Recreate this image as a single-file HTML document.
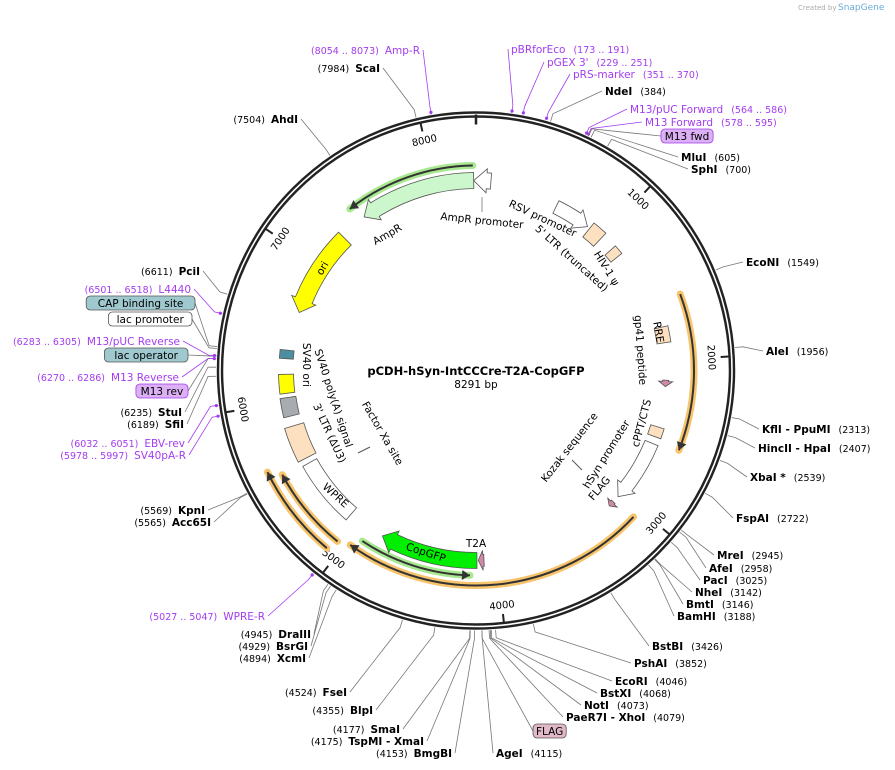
<!DOCTYPE html>
<html><head><meta charset="utf-8"><style>
body{margin:0;background:#fff;}
svg{display:block;font-family:"DejaVu Sans","Liberation Sans",sans-serif;}
</style></head><body>
<svg id="map" width="895" height="770" viewBox="0 0 895 770">
<text x="798" y="10" font-size="7" fill="#aaa">Created by</text>
<text x="838" y="10" font-size="9" fill="#6aa9d6">SnapGene</text>
<g id="lines"></g><g id="ring"></g><g id="feats"></g><g id="labels"></g>
<line x1="572" y1="460" x2="582" y2="470" stroke="#555" stroke-width="1"/>
<line x1="358" y1="453" x2="370" y2="447" stroke="#555" stroke-width="1"/>
<line x1="482" y1="197" x2="482" y2="212" stroke="#777" stroke-width="0.8"/>
<text x="476" y="375" text-anchor="middle" font-weight="bold" font-size="11.5">pCDH-hSyn-IntCCCre-T2A-CopGFP</text>
<text x="476" y="388" text-anchor="middle" font-size="10.5">8291 bp</text>
</svg>
<script>
const TOTAL = 8291;
const CX = 476, CY = 370.5, R = 256;
const tickValues = [1000,2000,3000,4000,5000,6000,7000,8000];
// features: name, start, end, radius, width, fill, direction (1 cw, -1 ccw, 0 box)
const featNames = ["AmpR","AmpR promoter","ori","RSV promoter","5' LTR","HIV-1 psi","RRE","gp41 peptide","cPPT/CTS","hSyn promoter","FLAG","T2A","CopGFP","WPRE","3' LTR","SV40 polyA","SV40 ori","lac operator"];
const featStart = [7460,8275,6637,600,890,1110,1770,2140,2470,2590,3080,4090,4139,5090,5590,5900,6060,6300];
const featEnd   = [8275,8395,7259,870,1000,1180,1880,2185,2540,3031,3120,4130,4825,5551,5830,6030,6192,6360];
const featR     = [190,190,186,182,180,180,190,190,190,190,190,190,190,190,190,190,190,190];
const featW     = [16,16,18,14,18,14,14,6,14,14,5,12,16,16,20,16,15,14];
const featFill  = ["#ccf7cc","#fff","#ffff00","#fff","#fde0c0","#fde0c0","#fde0c0","#d08aa8","#fde0c0","#fff","#d08aa8","#d08aa8","#00ee00","#fff","#fde0c0","#a8abb0","#ffff00","#4c8fa0"];
const featDir   = [-1,-1,-1,1,0,0,0,1,0,1,1,1,1,0,0,0,0,0];
// highlighted ORF arcs
const orfStart = [7416,1600,3061,4184,5067,5044];
const orfEnd   = [8270,2567,4970,4921,5620,5567];
const orfR     = [205,218,215,205,232,220];
const orfColor = ["#a8e890","#f7c46c","#f7c46c","#a8e890","#f7c46c","#f7c46c"];
const orfDir   = [-1,1,1,-1,1,1];
// sites
const siteNames = ["Amp-R","ScaI","AhdI","pBRforEco","pGEX 3'","pRS-marker","NdeI","M13/pUC Forward","M13 Forward","M13 fwd","MluI","SphI","EcoNI","AleI","KflI - PpuMI","HincII - HpaI","XbaI *","FspAI","MreI","AfeI","PacI","NheI","BmtI","BamHI","BstBI","PshAI","EcoRI","BstXI","NotI","PaeR7I - XhoI","FLAG","AgeI","BmgBI","TspMI - XmaI","SmaI","BlpI","FseI","XcmI","BsrGI","DraIII","WPRE-R","Acc65I","KpnI","SV40pA-R","EBV-rev","SfiI","StuI","M13 rev","M13 Reverse","lac operator","M13/pUC Reverse","lac promoter","CAP binding site","L4440","PciI"];
const siteNums = ["8054 .. 8073","7984","7504","173 .. 191","229 .. 251","351 .. 370","384","564 .. 586","578 .. 595","","605","700","1549","1956","2313","2407","2539","2722","2945","2958","3025","3142","3146","3188","3426","3852","4046","4068","4073","4079","","4115","4153","4175","4177","4355","4524","4894","4929","4945","5027 .. 5047","5565","5569","5978 .. 5997","6032 .. 6051","6189","6235","","6270 .. 6286","","6283 .. 6305","","","6501 .. 6518","6611"];
const siteBp = [8063,7984,7504,182,240,360,384,575,586,590,605,700,1549,1956,2313,2407,2539,2722,2945,2958,3025,3142,3146,3188,3426,3852,4046,4068,4073,4079,4115,4115,4153,4175,4177,4355,4524,4894,4929,4945,5037,5565,5569,5987,6041,6189,6235,6278,6278,6290,6294,6330,6340,6509,6611];
const siteType = ["pL","bL","bL","pR","pR","pR","bR","pR","pR","xR","bR","bR","bR","bR","bR","bR","bR","bR","bR","bR","bR","bR","bR","bR","bR","bR","bR","bR","bR","bR","fR","bR","bL","bL","bL","bL","bL","bL","bL","bL","pL","bL","bL","pL","pL","bL","bL","xL","pL","tL","pL","wL","tL","pL","bL"];
const siteLX = [420,380,298,511,547,573,605,630,645,661,681,691,746,766,762,758,750,736,717,709,703,695,686,677,652,634,615,600,584,566,533,496,452,424,400,373,347,306,308,311,265,211,205,186,185,184,182,188,179,188,180,192,195,191,200];
const siteLY = [54,72,123,53,66,78,95,113,126,140,161,173,266,355,433,452,481,522,559,572,584,596,608,620,650,667,685,697,709,721,735,757,757,745,733,714,696,662,650,638,620,526,514,459,447,428,416,395,381,359,345,323,307,293,275];

const svg = document.getElementById('map');
const NS = "http://www.w3.org/2000/svg";
function ang(bp){return bp/TOTAL*2*Math.PI;}
function pt(bp,r){const a=ang(bp);return [CX+r*Math.sin(a),CY-r*Math.cos(a)];}
function mk(tag,attrs,parent){const e=document.createElementNS(NS,tag);for(const k in attrs)e.setAttribute(k,attrs[k]);parent.appendChild(e);return e;}
function arc(r,b1,b2){const p1=pt(b1,r),p2=pt(b2,r);const large=(b2-b1)/TOTAL>0.5?1:0;return `M${p1[0]},${p1[1]} A${r},${r} 0 ${large} 1 ${p2[0]},${p2[1]}`;}
function pxToBp(px,r){return px/r/(2*Math.PI)*TOTAL;}

const ring=document.getElementById('ring');
let c1=mk('circle',{cx:CX,cy:CY,r:R,fill:'none',stroke:'#222','stroke-width':6.5},ring);


let c2=mk('circle',{cx:CX,cy:CY,r:R,fill:'none',stroke:'#fff','stroke-width':1.6},ring);


let z0=pt(0,R-10),z1=pt(0,R);
let zt=mk('line',{x1:z0[0],y1:z0[1],x2:z1[0],y2:z1[1],stroke:'#222','stroke-width':2.5},ring);


tickValues.forEach(v=>{
  const a=pt(v,R-3),b=pt(v,R-11);
  const l=mk('line',{x1:a[0],y1:a[1],x2:b[0],y2:b[1],stroke:'#222','stroke-width':2},ring);
  
  
  const deg=v/TOTAL*360;const q=pt(v,R-20);
  let rot=deg>90&&deg<270?deg+180:deg;
  const t=mk('text',{x:q[0],y:q[1]+3.5,'text-anchor':'middle','font-size':'10',transform:`rotate(${rot} ${q[0]} ${q[1]})`},ring);
  t.textContent=v;
  
  
});

const feats=document.getElementById('feats');
orfStart.forEach((s,i)=>{
  const e=orfEnd[i],r=orfR[i];
  const g=mk('g',{},feats);
  
  
  mk('path',{d:arc(r,s,e),fill:'none',stroke:orfColor[i],'stroke-width':7,'stroke-linecap':'round'},g);
  mk('path',{d:arc(r,s,e),fill:'none',stroke:'#333','stroke-width':2},g);
  const tip=orfDir[i]>0?e:s, back=orfDir[i]>0?e-pxToBp(8,r):s+pxToBp(8,r);
  const t=pt(tip,r),a=pt(back,r-5),b=pt(back,r+5);
  mk('path',{d:`M${t[0]},${t[1]} L${a[0]},${a[1]} L${b[0]},${b[1]}Z`,fill:'#333'},g);
});
featNames.forEach((n,i)=>{
  const s=featStart[i],e=featEnd[i],r=featR[i],w=featW[i],d=featDir[i];
  const ro=r+w/2,ri=r-w/2;let path;
  if(d===0){
    const a=pt(s,ro),b=pt(e,ro),c=pt(e,ri),f=pt(s,ri);
    path=`M${a[0]},${a[1]} A${ro},${ro} 0 0 1 ${b[0]},${b[1]} L${c[0]},${c[1]} A${ri},${ri} 0 0 0 ${f[0]},${f[1]}Z`;
  } else {
    let h=Math.min(pxToBp(13,r),(e-s)*0.8);
    const large=(e-s-h)/TOTAL>0.5?1:0;
    if(d>0){
      const hb=e-h;const a=pt(s,ro),b=pt(hb,ro),b2=pt(hb,ro+4),t=pt(e,r),c2=pt(hb,ri-4),c=pt(hb,ri),f=pt(s,ri);
      path=`M${a[0]},${a[1]} A${ro},${ro} 0 ${large} 1 ${b[0]},${b[1]} L${b2[0]},${b2[1]} L${t[0]},${t[1]} L${c2[0]},${c2[1]} L${c[0]},${c[1]} A${ri},${ri} 0 ${large} 0 ${f[0]},${f[1]}Z`;
    } else {
      const hb=s+h;const t=pt(s,r),a2=pt(hb,ro+4),a=pt(hb,ro),b=pt(e,ro),c=pt(e,ri),f=pt(hb,ri),f2=pt(hb,ri-4);
      path=`M${t[0]},${t[1]} L${a2[0]},${a2[1]} L${a[0]},${a[1]} A${ro},${ro} 0 ${large} 1 ${b[0]},${b[1]} L${c[0]},${c[1]} A${ri},${ri} 0 ${large} 0 ${f[0]},${f[1]} L${f2[0]},${f2[1]}Z`;
    }
  }
  const p=mk('path',{d:path,fill:featFill[i],stroke:'#555','stroke-width':0.8},feats);
  
  
});

const innerText=["AmpR promoter","AmpR","ori","RSV promoter","5' LTR (truncated)","HIV-1 ψ","RRE","gp41 peptide","cPPT/CTS","hSyn promoter","FLAG","Kozak sequence","Factor Xa site","SV40 ori","SV40 poly(A) signal","3' LTR (ΔU3)","WPRE","CopGFP","T2A"];
const innerX=[482,387,322,543,572,607,659,641,641,606,599,569,383,307,334,330,336,426,476];
const innerY=[224,238,272,222,262,272,336,354,427,458,492,451,437,369,402,437,499,556,547];
const innerRot=[6,-30,-60,25,42,58,80,86,-75,-58,-50,-52,60,90,72,65,42,18,0];
const L=document.getElementById('labels');
innerText.forEach((t,i)=>{
  const e=mk('text',{x:innerX[i],y:innerY[i],'text-anchor':'middle','font-size':'10.5',transform:`rotate(${innerRot[i]} ${innerX[i]} ${innerY[i]-4})`},L);
  e.textContent=t;
  
  
});

const lines=document.getElementById('lines');
siteNames.forEach((n,i)=>{
  const bp=siteBp[i],type=siteType[i][0],side=siteType[i][1],x=siteLX[i],y=siteLY[i];
  const purple=type==='p';
  const rp=pt(bp,R+4),rq=pt(bp,R+12);
  let lx=x,ly=y-4;
  const boxed=(type==='x'||type==='t'||type==='w'||type==='f');
  const g=mk('g',{},L);
  
  
  if(boxed){
    const fill=type==='x'?'#dbb0f5':type==='t'?'#9fc8cf':type==='f'?'#e0b8c8':'#fff';
    const tw=n.length*6.3+8;
    const bx=side==='R'?x:x-tw;
    mk('rect',{x:bx,y:y-11,width:tw,height:14,rx:4,fill:fill,stroke:type==='x'?'#a33cf0':'#555','stroke-width':0.8},g);
    const t=mk('text',{x:bx+tw/2,y:y,'text-anchor':'middle','font-size':'10.5'},g);t.textContent=n;
    lx=side==='R'?bx:bx+tw;ly=y-4;
  } else if(side==='R'){
    const t=mk('text',{x:x,y:y,'font-size':'10.5'},g);
    const nm=mk('tspan',{'font-weight':type==='b'?'bold':'normal',fill:purple?'#a33cf0':'#000'},t);nm.textContent=n;
    if(siteNums[i]){const nu=mk('tspan',{'font-size':'9.5',dx:'8',fill:purple?'#a33cf0':'#000'},t);nu.textContent='('+siteNums[i]+')';}
    lx=x-3;
  } else {
    const t=mk('text',{x:x,y:y,'font-size':'10.5','text-anchor':'end'},g);
    if(siteNums[i]){const nu=mk('tspan',{'font-size':'9.5',fill:purple?'#a33cf0':'#000'},t);nu.textContent='('+siteNums[i]+')';}
    const nm=mk('tspan',{'font-weight':type==='b'?'bold':'normal',dx:'6',fill:purple?'#a33cf0':'#000'},t);nm.textContent=n;
    lx=x+3;
  }
  const ln=mk('path',{d:`M${rp[0]},${rp[1]} L${rq[0]},${rq[1]} L${lx},${ly}`,fill:'none',stroke:purple?'#a33cf0':'#777','stroke-width':0.8},lines);
  
  
  if(purple){const m=pt(bp,R+6);const mm=mk('circle',{cx:m[0],cy:m[1],r:1.6,fill:'#a33cf0'},lines);
    
    }
});
</script>
</body></html>
